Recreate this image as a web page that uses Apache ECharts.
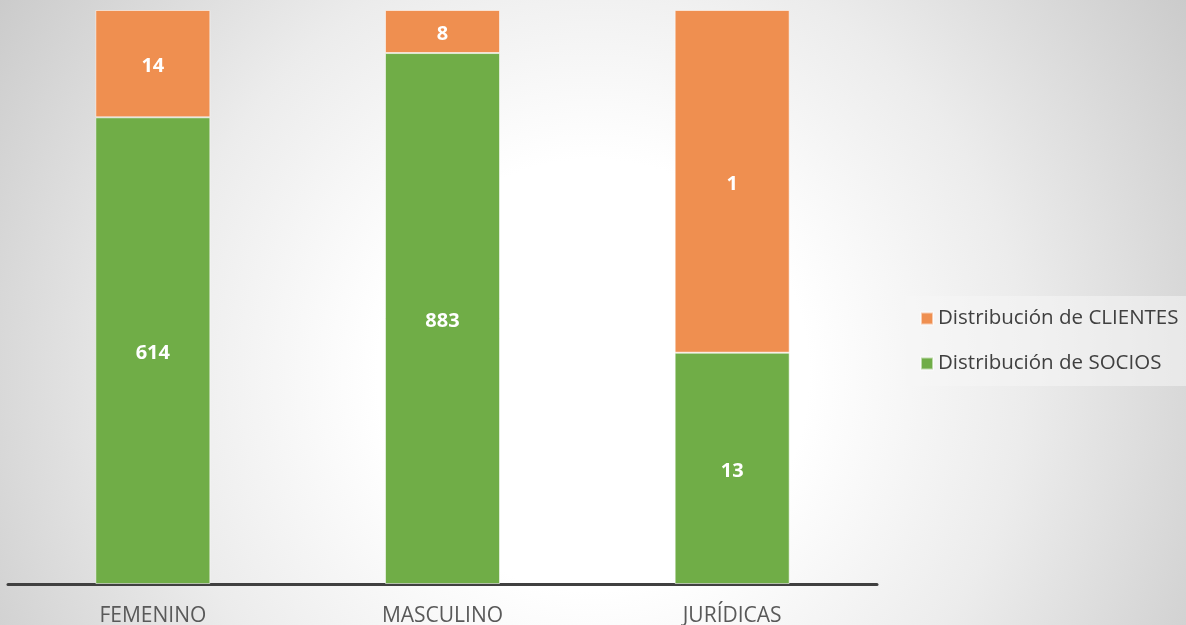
<!DOCTYPE html>
<html>
<head>
<meta charset="utf-8">
<script src="https://cdn.jsdelivr.net/npm/echarts@6/dist/echarts.min.js"></script>
<style>
html, body { margin: 0; padding: 0; }
#ct1 { width: 1186px; height: 625px; }
</style>
</head>
<body>
<div id="ct1"></div>
<script>
var categories = ['FEMENINO', 'MASCULINO', 'JURÍDICAS'];
// heights (share of each column, %)
var sociosShare = [81.3, 92.5, 40.3];
var clientesShare = [18.7, 7.5, 59.7];
// numbers printed on the bars
var sociosLabels = [614, 883, 13];
var clientesLabels = [14, 8, 1];

var font = 'Open Sans';

function labelOf(arr) {
	return function (p) {
		return arr[p.dataIndex];
	};
}

var option1 = {
	backgroundColor: {
		type: 'radial', x: 0.5, y: 0.6, r: 1.15,
		colorStops: [
			{ offset: 0, color: '#ffffff' },
			{ offset: 0.3, color: '#ffffff' },
			{ offset: 0.6, color: '#ececec' },
			{ offset: 1, color: '#c9c9c9' }
		]
	},
	animation: false,
	textStyle: { fontFamily: font },
	grid: { left: 8, right: 309, top: 10, bottom: 41, outerBoundsMode: 'none', containLabel: false },
	legend: {
		orient: 'vertical',
		left: 906, top: 296,
		width: 280,
		padding: [12, 20, 12, 14],
		backgroundColor: 'rgba(245,245,245,0.55)',
		itemWidth: 12, itemHeight: 12, itemGap: 24,
		icon: 'rect',
		data: ['Distribución de CLIENTES', 'Distribución de SOCIOS'],
		textStyle: { fontFamily: font, fontSize: 20.5, color: '#404040', padding: [0, 0, 0, 0] }
	},
	xAxis: {
		type: 'category',
		data: categories,
		axisLine: { lineStyle: { color: '#404040', width: 3 } },
		axisTick: { show: false },
		axisLabel: { fontFamily: font, fontSize: 21, color: '#595959', margin: 22 }
	},
	yAxis: {
		type: 'value', min: 0, max: 100, show: false, splitLine: { show: false }
	},
	series: [
		{
			name: 'Distribución de SOCIOS',
			type: 'bar', stack: 'total', barWidth: 115,
			data: sociosShare,
			itemStyle: { color: '#70ad47', borderColor: 'rgba(255,255,255,0.55)', borderWidth: 1 },
			label: {
				show: true, position: 'inside', offset: [0, 3], formatter: labelOf(sociosLabels),
				color: '#ffffff', fontWeight: 'bold', fontSize: 20, fontFamily: font
			}
		},
		{
			name: 'Distribución de CLIENTES',
			type: 'bar', stack: 'total', barWidth: 115,
			data: clientesShare,
			itemStyle: { color: '#ef8f50', borderColor: 'rgba(255,255,255,0.55)', borderWidth: 1 },
			label: {
				show: true, position: 'inside', offset: [0, 3], formatter: labelOf(clientesLabels),
				color: '#ffffff', fontWeight: 'bold', fontSize: 20, fontFamily: font
			}
		}
	]
};

var myChart1 = echarts.init(document.getElementById('ct1'));
myChart1.setOption(option1, true);
</script>
</body>
</html>
